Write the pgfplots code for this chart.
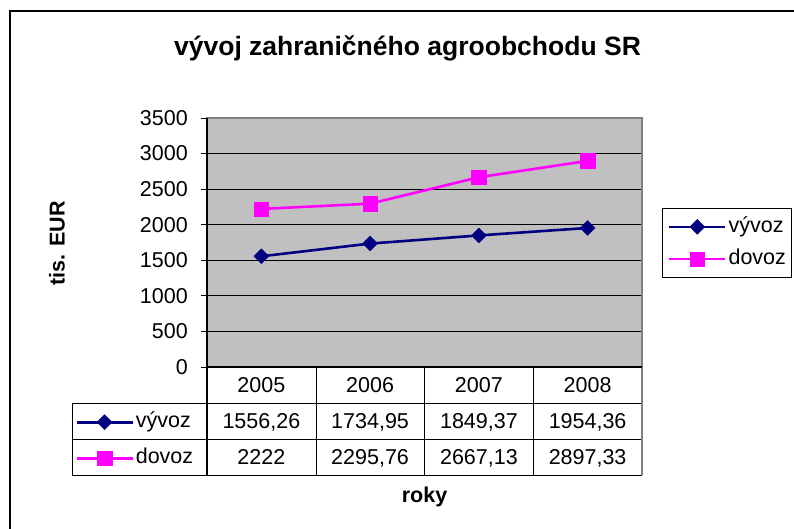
\documentclass[border=0pt]{standalone}
\usepackage{fontspec}
\setmainfont{Liberation Sans}
\usepackage{pgfplots}
\pgfplotsset{compat=1.18}
\definecolor{plotgray}{HTML}{C0C0C0}
\definecolor{bordergray}{HTML}{808080}
\definecolor{vyvozc}{HTML}{000080}
\definecolor{dovozc}{HTML}{FF00FF}
\newcommand{\fs}{\fontsize{21.5}{25}\selectfont}
\pgfplotsset{
  vyvozstyle/.style={color=vyvozc, line width=2.6pt, mark=square*, mark size=5.3pt, mark options={rotate=45, solid, line width=0.4pt}},
  dovozstyle/.style={color=dovozc, line width=2.6pt, mark=square*, mark size=7.2pt, mark options={solid, line width=0.4pt}},
}
\begin{document}
\begin{tikzpicture}
\useasboundingbox (0pt,0pt) rectangle (794pt,528pt);
% chart area border (top and left visible)
\draw[black, line width=1.6pt] (10pt,-2pt) -- (10pt,517pt) -- (800pt,517pt);
% title
\node[anchor=base, font=\fontsize{26.5}{30}\selectfont\bfseries] at (407.5pt,472pt) {vývoj zahraničného agroobchodu SR};

\begin{axis}[
  at={(207pt,161pt)}, anchor=south west,
  scale only axis, width=435pt, height=249pt,
  xmin=0.5, xmax=4.5, ymin=0, ymax=3500,
  xtick=\empty,
  ytick={0,500,...,3500},
  ytick pos=left,
  ymajorgrids,
  grid style={black, line width=0.9pt},
  axis background/.style={fill=plotgray},
  axis line style={bordergray, line width=1.6pt},
  tick align=outside,
  major tick length=6pt,
  ytick style={black, line width=0.9pt},
  yticklabel style={font=\fs, inner sep=0pt, anchor=east, xshift=-13pt},
  /pgf/number format/assume math mode=true,
  /pgf/number format/1000 sep={},
  clip=false,
  legend image code/.code={\draw[mark repeat=2,mark phase=2,#1,line width=2.6pt] plot coordinates {(0pt,0pt) (28pt,0pt) (56pt,0pt)};},
  legend cell align=left,
  legend style={at={(1.046,0.6386)}, anchor=north west, draw=black, line width=0.9pt, fill=white,
    inner xsep=5.5pt, inner ysep=8pt, row sep=11pt, font=\fs,
    nodes={inner sep=0pt, text height=16pt, text depth=5pt},
    /tikz/every odd column/.style={column sep=2pt},
    /tikz/every even column/.style={column sep=0pt}},
]
\addplot[vyvozstyle] coordinates {(1,1556.26) (2,1734.95) (3,1849.37) (4,1954.36)};
\addlegendentry{vývoz}
\addplot[dovozstyle] coordinates {(1,2222) (2,2295.76) (3,2667.13) (4,2897.33)};
\addlegendentry{dovoz}
\end{axis}

% legend keys of the data table
\begin{axis}[
  at={(207pt,161pt)}, anchor=south west,
  scale only axis, width=435pt, height=249pt,
  hide axis, xmin=0, xmax=1, ymin=0, ymax=1,
  legend image code/.code={\draw[mark repeat=2,mark phase=2,#1,line width=2.6pt] plot coordinates {(0pt,0pt) (28pt,0pt) (56pt,0pt)};},
  legend cell align=left,
  legend style={at={(-0.3103,-0.1446)}, anchor=north west, draw=none, fill=none,
    inner xsep=3pt, inner ysep=8.5pt, row sep=15pt, font=\fs,
    nodes={inner sep=0pt, text height=16pt, text depth=5pt},
    /tikz/every odd column/.style={column sep=2pt},
    /tikz/every even column/.style={column sep=0pt}},
]
\addlegendimage{vyvozstyle}
\addlegendentry{vývoz}
\addlegendimage{dovozstyle}
\addlegendentry{dovoz}
\end{axis}

% data table grid
\draw[black, line width=0.9pt] (72pt,125pt) -- (642pt,125pt);
\draw[black, line width=0.9pt] (72pt,89pt) -- (642pt,89pt);
\draw[black, line width=0.9pt] (72pt,53pt) -- (642pt,53pt);
\draw[black, line width=0.9pt] (72pt,125pt) -- (72pt,53pt);
\draw[black, line width=0.9pt] (316pt,161pt) -- (316pt,53pt);
\draw[black, line width=0.9pt] (424pt,161pt) -- (424pt,53pt);
\draw[black, line width=0.9pt] (533pt,161pt) -- (533pt,53pt);
\draw[bordergray, line width=1.6pt] (642pt,161pt) -- (642pt,53pt);
\draw[black, line width=1.2pt] (207pt,410pt) -- (207pt,53pt);
\draw[black, line width=1.2pt] (207pt,161pt) -- (642pt,161pt);

% table texts
\begin{scope}[every node/.style={anchor=base, font=\fs, inner sep=0pt}]
\node at (261.4pt,135.5pt) {2005};
\node at (370.1pt,135.5pt) {2006};
\node at (478.9pt,135.5pt) {2007};
\node at (587.6pt,135.5pt) {2008};
\node at (261.4pt,99.5pt) {1556,26};
\node at (370.1pt,99.5pt) {1734,95};
\node at (478.9pt,99.5pt) {1849,37};
\node at (587.6pt,99.5pt) {1954,36};
\node at (261.4pt,63.5pt) {2222};
\node at (370.1pt,63.5pt) {2295,76};
\node at (478.9pt,63.5pt) {2667,13};
\node at (587.6pt,63.5pt) {2897,33};
\end{scope}

% axis titles
\node[anchor=base, font=\fs\bfseries] at (424.5pt,26pt) {roky};
\node[rotate=90, font=\fs\bfseries] at (57pt,284.5pt) {tis. EUR};
\end{tikzpicture}
\end{document}
